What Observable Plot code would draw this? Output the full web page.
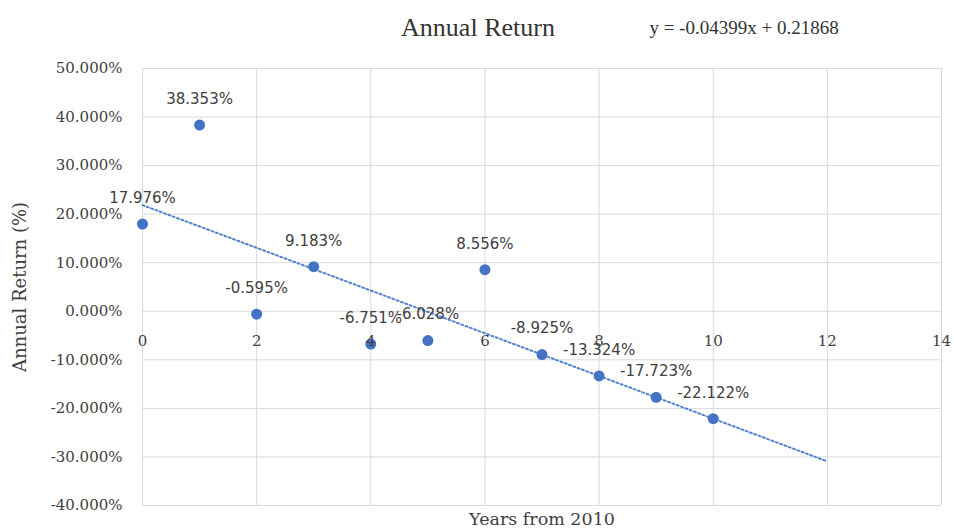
<!DOCTYPE html>
<html>
<head>
<meta charset="utf-8">
<script src="https://cdn.jsdelivr.net/npm/d3@7"></script>
<script src="https://cdn.jsdelivr.net/npm/@observablehq/plot@0.6"></script>
<style>
  html, body { margin: 0; padding: 0; background: #fff; }
</style>
</head>
<body>
<div id="chart"></div>
<script>
// Years since 2010 and the annual return for each (percent)
const years = [0, 1, 2, 3, 4, 5, 6, 7, 8, 9, 10];
const returns = [17.976, 38.353, -0.595, 9.183, -6.751, -6.028, 8.556, -8.925, -13.324, -17.723, -22.122];

// Linear trendline (fractional units) and the x range it is drawn over
const trendSlope = -0.04399;
const trendIntercept = 0.21868;
const trendRange = [0, 12];

// Axis ticks
const xTicks = [0, 2, 4, 6, 8, 10, 12, 14];
const yTicks = [-40, -30, -20, -10, 0, 10, 20, 30, 40, 50];

const titleText = "Annual Return";
const equationText = `y = ${trendSlope}x + ${trendIntercept}`;
const xTitle = "Years from 2010";
const yTitle = "Annual Return (%)";

const points = years.map((x, i) => ({x, y: returns[i]}));
const trend = trendRange.map(x => ({x, y: (trendSlope * x + trendIntercept) * 100}));

const blue = "#4472c4";
const ink = "#404040";

const chart = Plot.plot({
  width: 954,
  height: 529,
  marginLeft: 142,
  marginRight: 13,
  marginTop: 68,
  marginBottom: 24,
  style: {fontFamily: "DejaVu Serif", fontSize: "15px", color: ink, background: "#fff"},
  x: {domain: [0, 14], axis: null},
  y: {domain: [-40, 50], axis: null},
  marks: [
    Plot.gridX(xTicks, {stroke: "#d9d9d9", strokeOpacity: 1, strokeWidth: 1}),
    Plot.gridY(yTicks, {stroke: "#d9d9d9", strokeOpacity: 1, strokeWidth: 1}),
    // dotted trendline
    Plot.line(trend, {x: "x", y: "y", stroke: "#5284cc", strokeWidth: 2, strokeDasharray: "2,2.6"}),
    Plot.dot(points, {x: "x", y: "y", r: 5.5, fill: blue, stroke: null}),
    Plot.text(points, {
      x: "x", y: "y", text: d => d.y.toFixed(3) + "%",
      dy: -26, fontFamily: "DejaVu Sans", fontSize: 15, fill: ink
    }),
    // horizontal axis labels sit just below the zero line
    Plot.text(xTicks, {x: d => d, y: 0, dy: 30, text: d => String(d), fontFamily: "DejaVu Serif", fontSize: 15, fill: ink}),
    Plot.axisY(yTicks, {
      tickFormat: d => d.toFixed(3) + "%", tickSize: 0, tickPadding: 20,
      fontSize: 15, fontFamily: "DejaVu Serif", fill: ink, label: null
    }),
    Plot.text([titleText], {
      frameAnchor: "top", lineAnchor: "middle", dx: -64, dy: -41, text: d => d,
      fontFamily: "Liberation Serif", fontSize: 26, fill: "#333"
    }),
    Plot.text([equationText], {
      frameAnchor: "top", lineAnchor: "middle", dx: 202, dy: -41, text: d => d,
      fontFamily: "Liberation Serif", fontSize: 19, fill: "#333"
    }),
    Plot.text([xTitle], {
      frameAnchor: "bottom", lineAnchor: "middle", dy: 14, text: d => d,
      fontFamily: "DejaVu Serif", fontSize: 17.5, fill: ink
    }),
    Plot.text([yTitle], {
      frameAnchor: "left", textAnchor: "middle", lineAnchor: "middle", dx: -122, rotate: -90, text: d => d,
      fontFamily: "DejaVu Serif", fontSize: 18, fill: ink
    })
  ]
});

document.getElementById("chart").append(chart);
</script>
</body>
</html>
